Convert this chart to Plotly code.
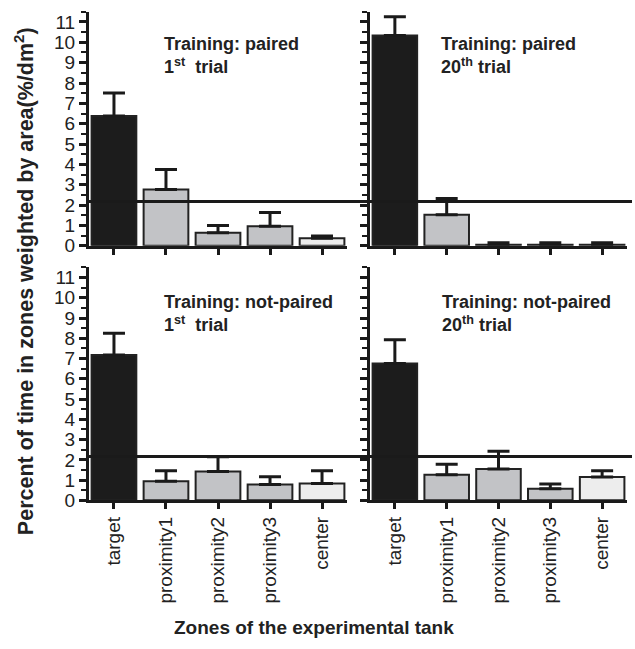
import plotly.graph_objects as go

# Zones along the x axis
zones = ["target", "proximity1", "proximity2", "proximity3", "center"]

# Mean percent of time weighted by area (%/dm²) and upper error (mean + SEM)
paired_1st = [6.38, 2.77, 0.64, 0.96, 0.37]
paired_1st_err = [7.51, 3.75, 1.00, 1.64, 0.48]

paired_20th = [10.34, 1.53, 0.05, 0.05, 0.05]
paired_20th_err = [11.26, 2.32, 0.15, 0.15, 0.15]

notpaired_1st = [7.17, 0.94, 1.42, 0.78, 0.83]
notpaired_1st_err = [8.25, 1.46, 2.15, 1.17, 1.46]

notpaired_20th = [6.76, 1.26, 1.55, 0.57, 1.15]
notpaired_20th_err = [7.93, 1.78, 2.43, 0.81, 1.46]

# Chance level drawn across each row
chance_level = 2.17

y_ticks = list(range(0, 12))

panel_titles = [
    "<b>Training: paired<br>1<sup>st</sup>  trial</b>",
    "<b>Training: paired<br>20<sup>th</sup> trial</b>",
    "<b>Training: not-paired<br>1<sup>st</sup>  trial</b>",
    "<b>Training: not-paired<br>20<sup>th</sup> trial</b>",
]

FONT = "Liberation Sans, Arial, sans-serif"
INK = "#1a1a1a"
bar_colors = ["#1c1c1c", "#c2c3c6", "#c2c3c6", "#c2c3c6", "#ededed"]

W, H = 635, 649
# panel pixel boxes (left, right, top, bottom)
boxes = [
    (89, 347, 12, 250),
    (370, 627, 12, 250),
    (89, 347, 272, 509),
    (370, 627, 272, 509),
]

series = [
    (paired_1st, paired_1st_err),
    (paired_20th, paired_20th_err),
    (notpaired_1st, notpaired_1st_err),
    (notpaired_20th, notpaired_20th_err),
]

fig = go.Figure()
layout = dict(
    width=W,
    height=H,
    margin=dict(l=0, r=0, t=0, b=0),
    paper_bgcolor="white",
    plot_bgcolor="white",
    showlegend=False,
    font=dict(family=FONT, color=INK),
    bargap=0.14,
)

for i, ((vals, err), (l, r, t, b)) in enumerate(zip(series, boxes)):
    n = "" if i == 0 else str(i + 1)
    fig.add_trace(
        go.Bar(
            x=zones,
            y=vals,
            xaxis="x" + n,
            yaxis="y" + n,
            marker=dict(color=bar_colors, line=dict(color="#222222", width=2)),
            error_y=dict(
                type="data",
                symmetric=False,
                array=[e - v for e, v in zip(err, vals)],
                arrayminus=[0] * len(vals),
                color=INK,
                thickness=3,
                width=11,
            ),
        )
    )
    bottom_row = i >= 2
    left_col = i % 2 == 0
    layout["xaxis" + n] = dict(
        domain=[l / W, r / W],
        anchor="y" + n,
        range=[-0.48, 4.48],
        showline=True,
        linewidth=3,
        linecolor=INK,
        ticks="outside",
        ticklen=6,
        tickwidth=2.5,
        tickcolor=INK,
        showgrid=False,
        zeroline=False,
        showticklabels=bottom_row,
        tickangle=-90,
        tickfont=dict(size=19, family=FONT, color="#222222"),
        fixedrange=True,
    )
    layout["yaxis" + n] = dict(
        domain=[1 - b / H, 1 - t / H],
        anchor="x" + n,
        range=[0, 11.5],
        tickvals=y_ticks,
        showline=True,
        linewidth=3,
        linecolor=INK,
        ticks="outside",
        ticklen=7,
        tickwidth=2.5,
        tickcolor=INK,
        minor=dict(dtick=0.5, tick0=0, ticks="outside", ticklen=5, tickwidth=2, tickcolor=INK),
        showgrid=False,
        zeroline=False,
        showticklabels=left_col,
        tickfont=dict(size=19, family=FONT, color="#222222"),
        fixedrange=True,
    )

layout["shapes"] = [
    dict(type="line", xref="paper", yref="y", x0=86 / W, x1=632 / W,
         y0=chance_level, y1=chance_level, line=dict(color=INK, width=3), layer="above"),
    dict(type="line", xref="paper", yref="y3", x0=86 / W, x1=632 / W,
         y0=chance_level, y1=chance_level, line=dict(color=INK, width=3), layer="above"),
]

title_pos = [(162, 33), (439, 33), (162, 295), (440, 295)]
annotations = []
for text, (px, py) in zip(panel_titles, title_pos):
    annotations.append(dict(
        text=text, xref="paper", yref="paper", x=px / W, y=1 - py / H,
        xanchor="left", yanchor="top", align="left", showarrow=False,
        font=dict(size=18, family=FONT, color="#222222"),
    ))

annotations.append(dict(
    text="<b>Percent of time in zones weighted by area(%/dm<sup>2</sup>)</b>",
    xref="paper", yref="paper", x=24 / W, y=1 - 286 / H,
    xanchor="center", yanchor="middle", textangle=-90, showarrow=False,
    font=dict(size=21.5, family=FONT, color="#222222"),
))
annotations.append(dict(
    text="<b>Zones of the experimental tank</b>",
    xref="paper", yref="paper", x=314 / W, y=1 - 638 / H,
    xanchor="center", yanchor="middle", showarrow=False,
    font=dict(size=19, family=FONT, color="#222222"),
))
layout["annotations"] = annotations

fig.update_layout(**layout)
fig.write_html("out.html")
